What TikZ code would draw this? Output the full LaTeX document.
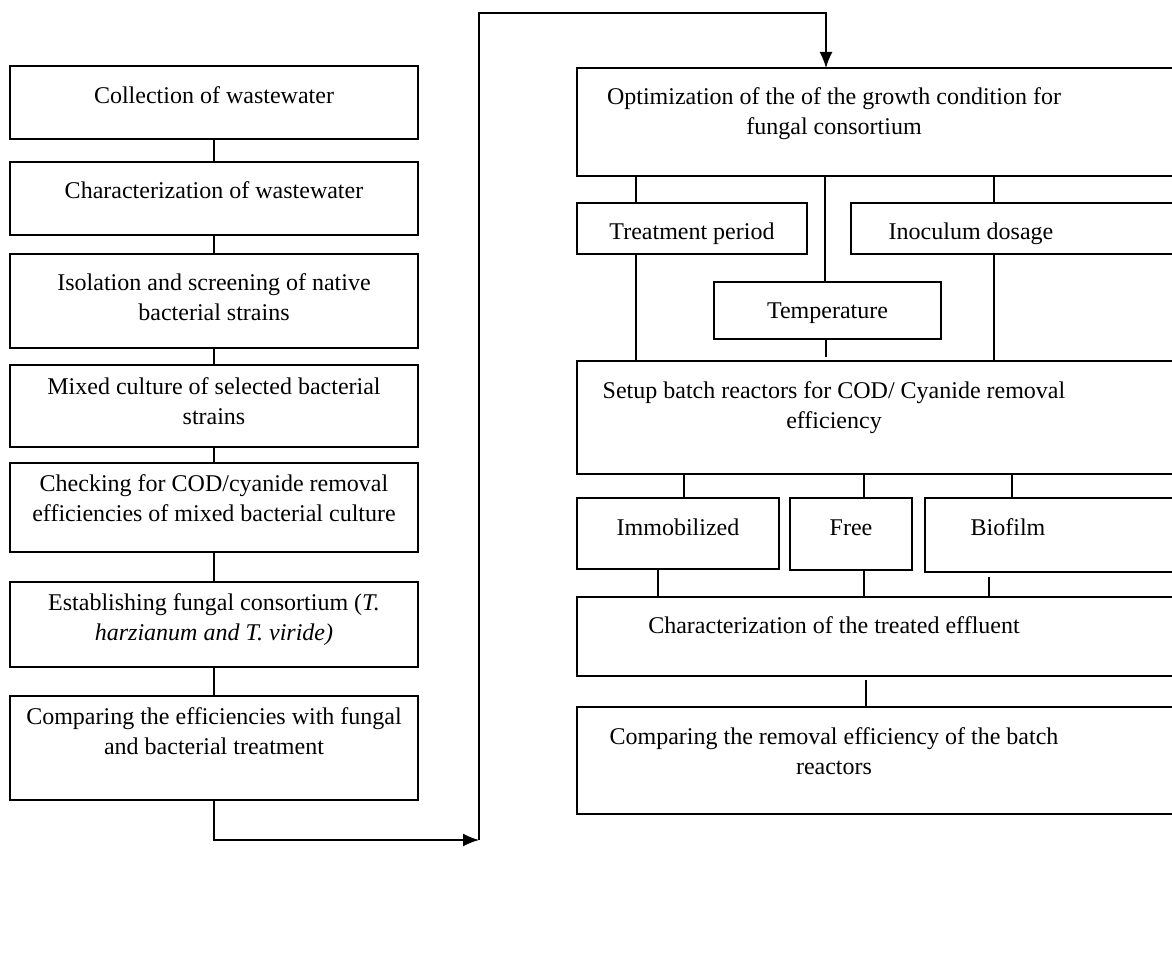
\documentclass[tikz,border=0pt]{standalone}
\usepackage{fontspec}
\setmainfont{Liberation Serif}
\usetikzlibrary{arrows.meta,positioning}
\tikzset{
  stepbox/.style={draw,line width=0.7pt,inner sep=0pt,outer sep=0pt,anchor=north west},
  boxtext/.style={align=center,inner sep=0pt,font=\fontsize{12}{15}\selectfont},
  link/.style={line width=0.7pt},
  flowarrow/.style={link,-{Latex[length=8pt,width=6.5pt]}}
}

\begin{document}
\begin{tikzpicture}[x=0.5pt,y=-0.5pt]
  \useasboundingbox (0,0) rectangle (1172,967);
  \clip (0,0) rectangle (1172,967);
  % left column
  \node[stepbox,minimum width=204pt,minimum height=36.5pt] (b1) at (10,66) {};
  \node[stepbox,minimum width=204pt,minimum height=36.5pt] (b2) at (10,162) {};
  \node[stepbox,minimum width=204pt,minimum height=47pt] (b3) at (10,254) {};
  \node[stepbox,minimum width=204pt,minimum height=41pt] (b4) at (10,365) {};
  \node[stepbox,minimum width=204pt,minimum height=44.5pt] (b5) at (10,463) {};
  \node[stepbox,minimum width=204pt,minimum height=42.5pt] (b6) at (10,582) {};
  \node[stepbox,minimum width=204pt,minimum height=52pt] (b7) at (10,696) {};
  \node[boxtext,below=8pt of b1.north] (b1t) {\strut Collection of wastewater};
  \node[boxtext,below=7.5pt of b2.north] (b2t) {\strut Characterization of wastewater};
  \node[boxtext,below=7.5pt of b3.north] (b3t) {\strut Isolation and screening of native\\bacterial strains};
  \node[boxtext,below=4pt of b4.north] (b4t) {\strut Mixed culture of selected bacterial\\strains};
  \node[boxtext,below=3.5pt of b5.north] (b5t) {\strut Checking for COD/cyanide removal\\efficiencies of mixed bacterial culture};
  \node[boxtext,below=3.5pt of b6.north] (b6t) {\strut Establishing fungal consortium (\textit{T.}\\\textit{harzianum and T. viride)}};
  \node[boxtext,below=3.5pt of b7.north] (b7t) {\strut Comparing the efficiencies with fungal\\and bacterial treatment};
  \foreach \a/\b in {b1/b2,b2/b3,b3/b4,b4/b5,b5/b6,b6/b7}
    \draw[link] (\a.south) -- (\b.north);

  % right column
  \node[stepbox,minimum width=302.5pt,minimum height=54pt] (opt) at (577,68) {};
  \node[stepbox,minimum width=115pt,minimum height=25.5pt] (tp) at (577,203) {};
  \node[stepbox,minimum width=165.5pt,minimum height=25.5pt] (inoc) at (851,203) {};
  \node[stepbox,minimum width=113.5pt,minimum height=28.5pt] (temp) at (714,282) {};
  \node[stepbox,minimum width=302.5pt,minimum height=56.5pt] (setup) at (577,361) {};
  \node[stepbox,minimum width=101pt,minimum height=35.5pt] (imm) at (577,498) {};
  \node[stepbox,minimum width=61pt,minimum height=36pt] (free) at (790,498) {};
  \node[stepbox,minimum width=128.5pt,minimum height=37pt] (bio) at (925,498) {};
  \node[stepbox,minimum width=302.5pt,minimum height=39.5pt] (eff) at (577,597) {};
  \node[stepbox,minimum width=302.5pt,minimum height=53.5pt] (cmp) at (577,707) {};
  \node[boxtext,below=7.5pt of opt.north,xshift=-22.75pt] (optt) {\strut Optimization of the of the growth condition for\\fungal consortium};
  \node[boxtext,below=7.5pt of tp.north] (tpt) {\strut Treatment period};
  \node[boxtext,below=7.5pt of inoc.north,xshift=-22.75pt] (inoct) {\strut Inoculum dosage};
  \node[boxtext,below=7.5pt of temp.north] (tempt) {\strut Temperature};
  \node[boxtext,below=8pt of setup.north,xshift=-22.75pt] (setupt) {\strut Setup batch reactors for COD/ Cyanide removal\\efficiency};
  \node[boxtext,below=8pt of imm.north] (immt) {\strut Immobilized};
  \node[boxtext,below=8pt of free.north] (freet) {\strut Free};
  \node[boxtext,below=8pt of bio.north,xshift=-22.75pt] (biot) {\strut Biofilm};
  \node[boxtext,below=7.5pt of eff.north,xshift=-22.75pt] (efft) {\strut Characterization of the treated effluent};
  \node[boxtext,below=8pt of cmp.north,xshift=-22.75pt] (cmpt) {\strut Comparing the removal efficiency of the batch\\reactors};

  \draw[link] ([xshift=-28pt]tp.north) -- ([xshift=-28pt]tp.north |- opt.south);
  \draw[link] ([xshift=-1.25pt]temp.north) -- ([xshift=-1.25pt]temp.north |- opt.south);
  \draw[link] ([xshift=-11.25pt]inoc.north) -- ([xshift=-11.25pt]inoc.north |- opt.south);
  \draw[link] ([xshift=-28pt]tp.south) -- ([xshift=-28pt]tp.south |- setup.north);
  \draw[link] ([xshift=-11.25pt]inoc.south) -- ([xshift=-11.25pt]inoc.south |- setup.north);
  \draw[link,shorten >=2pt] ([xshift=-0.75pt]temp.south) -- ([xshift=-0.75pt]temp.south |- setup.north);
  \draw[link] ([xshift=3pt]imm.north) -- ([xshift=3pt]imm.north |- setup.south);
  \draw[link] ([xshift=6.5pt]free.north) -- ([xshift=6.5pt]free.north |- setup.south);
  \draw[link] ([xshift=-20.75pt]bio.north) -- ([xshift=-20.75pt]bio.north |- setup.south);
  \draw[link] ([xshift=-10pt]imm.south) -- ([xshift=-10pt]imm.south |- eff.north);
  \draw[link] ([xshift=6.5pt]free.south) -- ([xshift=6.5pt]free.south |- eff.north);
  \draw[link,shorten <=2.5pt] ([xshift=-32.25pt]bio.south) -- ([xshift=-32.25pt]bio.south |- eff.north);
  \draw[link,shorten <=2pt] ([xshift=-6.75pt]eff.south) -- ([xshift=-6.75pt]eff.south |- cmp.north);

  % jump between the columns
  \coordinate (turn) at (479,840);
  \coordinate (top) at (479,13);
  \draw[flowarrow] (b7.south) |- (turn);
  \draw[flowarrow] (turn) -- (top) -| ([xshift=-26.75pt]opt.north);
\end{tikzpicture}
\end{document}
